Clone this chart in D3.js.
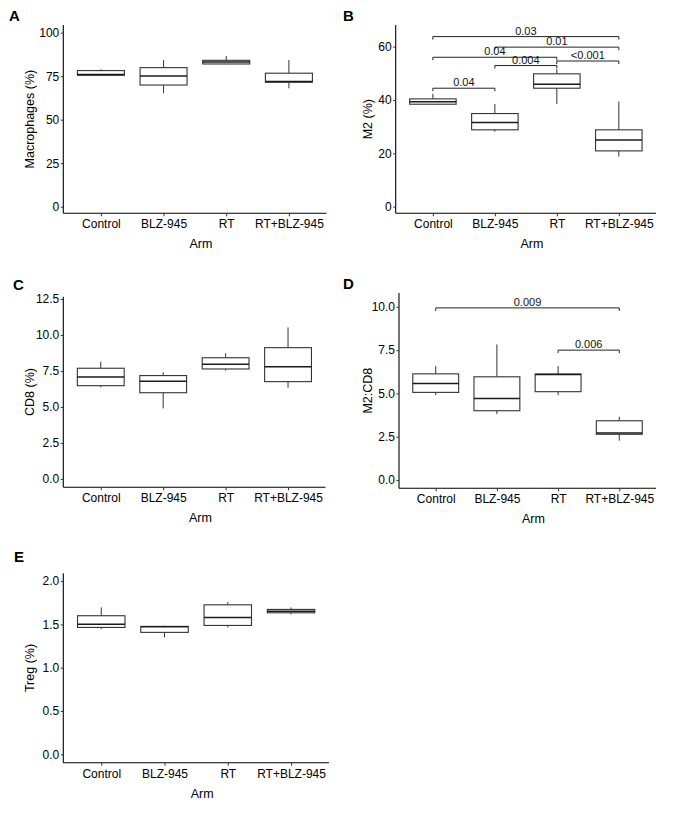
<!DOCTYPE html>
<html>
<head>
<meta charset="utf-8">
<script src="https://cdn.jsdelivr.net/npm/d3@7"></script>
<style>
  html, body { margin: 0; padding: 0; background: #fff; }
  svg { display: block; font-family: "Liberation Sans", Arial, Helvetica, sans-serif; }
</style>
</head>
<body>
<svg id="chart" width="677" height="814"></svg>
<script>
// ---------------- DATA ----------------
const categories = ["Control", "BLZ-945", "RT", "RT+BLZ-945"];

// five-number summaries per arm: [min, q1, median, q3, max]
const macrophagesStats = [
  [75.5, 75.5, 76.0, 78.2, 79.0],
  [65.2, 69.9, 75.1, 79.9, 84.3],
  [81.8, 82.0, 83.2, 84.1, 86.6],
  [68.0, 71.5, 71.9, 76.7, 84.3]
];
const m2Stats = [
  [38.3, 38.4, 39.3, 40.4, 42.3],
  [28.1, 28.8, 31.5, 34.9, 38.5],
  [38.5, 44.4, 45.9, 49.8, 51.5],
  [18.8, 20.9, 25.0, 28.8, 39.4]
];
const cd8Stats = [
  [6.37, 6.48, 7.08, 7.69, 8.15],
  [4.90, 5.99, 6.78, 7.18, 7.41],
  [7.52, 7.64, 7.96, 8.42, 8.73],
  [6.34, 6.76, 7.80, 9.12, 10.53]
];
const m2cd8Stats = [
  [4.90, 5.06, 5.58, 6.13, 6.58],
  [3.81, 4.00, 4.71, 5.96, 7.83],
  [4.90, 5.10, 6.10, 6.12, 6.58],
  [2.27, 2.64, 2.72, 3.42, 3.65]
];
const tregStats = [
  [1.446, 1.465, 1.503, 1.600, 1.696],
  [1.350, 1.408, 1.472, 1.477, 1.484],
  [1.465, 1.488, 1.581, 1.726, 1.757],
  [1.615, 1.634, 1.653, 1.673, 1.696]
];

// significance brackets: [from, to, bracket height (data units), label]
const m2Brackets = [
  ["Control", "RT+BLZ-945", 63.75, "0.03"],
  ["BLZ-945", "RT+BLZ-945", 59.8, "0.01"],
  ["Control", "RT", 56.0, "0.04"],
  ["RT", "RT+BLZ-945", 54.6, "<0.001"],
  ["BLZ-945", "RT", 52.9, "0.004"],
  ["Control", "BLZ-945", 44.4, "0.04"]
];
const m2cd8Brackets = [
  ["Control", "RT+BLZ-945", 9.94, "0.009"],
  ["RT", "RT+BLZ-945", 7.5, "0.006"]
];

// tick values
const macrophagesTicks = [0, 25, 50, 75, 100];
const m2Ticks = [0, 20, 40, 60];
const cd8Ticks = [0, 2.5, 5, 7.5, 10, 12.5];
const m2cd8Ticks = [0, 2.5, 5, 7.5, 10];
const tregTicks = [0, 0.5, 1, 1.5, 2];

// ---------------- LAYOUT ----------------
const panels = [
  { letter: "A", lx: 9, ly: 20.5, left: 63.3, right: 326.5, top: 25, bottom: 213.3,
    domain: [-3.8, 104.4], ticks: macrophagesTicks, fmt: d3.format("d"),
    stats: macrophagesStats, ytitle: "Macrophages (%)", titleX: 30, brackets: [] },
  { letter: "B", lx: 343, ly: 20.5, left: 395.7, right: 656, top: 25, bottom: 213.3,
    domain: [-2.5, 68.1], ticks: m2Ticks, fmt: d3.format("d"),
    stats: m2Stats, ytitle: "M2 (%)", titleX: 368, brackets: m2Brackets },
  { letter: "C", lx: 13, ly: 290, left: 63.3, right: 325.5, top: 296.7, bottom: 487.3,
    domain: [-0.58, 12.66], ticks: cd8Ticks, fmt: d3.format(".1f"),
    stats: cd8Stats, ytitle: "CD8 (%)", titleX: 30, brackets: [] },
  { letter: "D", lx: 343, ly: 288.6, left: 399, right: 656, top: 293, bottom: 488.3,
    domain: [-0.48, 10.8], ticks: m2cd8Ticks, fmt: d3.format(".1f"),
    stats: m2cd8Stats, ytitle: "M2:CD8", titleX: 368, brackets: m2cd8Brackets },
  { letter: "E", lx: 14, ly: 562, left: 63.3, right: 329, top: 573.3, bottom: 762.7,
    domain: [-0.097, 2.09], ticks: tregTicks, fmt: d3.format(".1f"),
    stats: tregStats, ytitle: "Treg (%)", titleX: 30, brackets: [] }
];

const svg = d3.select("#chart");
const boxColor = "#333333";

panels.forEach(p => {
  const g = svg.append("g");
  const x = d3.scalePoint().domain(categories).range([p.left, p.right]).padding(0.6);
  const y = d3.scaleLinear().domain(p.domain).range([p.bottom, p.top]);
  const bw = x.step() * 0.75;

  // panel letter
  g.append("text").attr("x", p.lx).attr("y", p.ly)
    .attr("font-size", 15).attr("font-weight", "bold").attr("fill", "#000")
    .text(p.letter);

  // boxes
  const boxes = g.selectAll("g.box").data(p.stats).join("g").attr("class", "box");
  boxes.append("line")
    .attr("x1", (d, i) => x(categories[i])).attr("x2", (d, i) => x(categories[i]))
    .attr("y1", d => y(d[4])).attr("y2", d => y(d[3]))
    .attr("stroke", boxColor).attr("stroke-width", 1);
  boxes.append("line")
    .attr("x1", (d, i) => x(categories[i])).attr("x2", (d, i) => x(categories[i]))
    .attr("y1", d => y(d[1])).attr("y2", d => y(d[0]))
    .attr("stroke", boxColor).attr("stroke-width", 1);
  boxes.append("rect")
    .attr("x", (d, i) => x(categories[i]) - bw / 2).attr("width", bw)
    .attr("y", d => y(d[3])).attr("height", d => Math.max(0.5, y(d[1]) - y(d[3])))
    .attr("fill", "#fff").attr("stroke", boxColor).attr("stroke-width", 1.1);
  boxes.append("line")
    .attr("x1", (d, i) => x(categories[i]) - bw / 2).attr("x2", (d, i) => x(categories[i]) + bw / 2)
    .attr("y1", d => y(d[2])).attr("y2", d => y(d[2]))
    .attr("stroke", "#1a1a1a").attr("stroke-width", 1.5);

  // brackets
  p.brackets.forEach(b => {
    const x1 = x(b[0]), x2 = x(b[1]), yy = y(b[2]);
    g.append("path")
      .attr("d", `M${x1},${yy + 3}V${yy}H${x2}V${yy + 3}`)
      .attr("fill", "none").attr("stroke", "#222").attr("stroke-width", 1);
    g.append("text").attr("x", (x1 + x2) / 2).attr("y", yy - 2)
      .attr("text-anchor", "middle").attr("font-size", 11).attr("fill", "#111")
      .text(b[3]);
  });

  // axes
  const yAxis = d3.axisLeft(y).tickValues(p.ticks).tickFormat(p.fmt).tickSize(2.5).tickPadding(1.5);
  const ya = g.append("g").attr("transform", `translate(${p.left},0)`).call(yAxis);
  ya.attr("font-family", null);
  ya.select(".domain").attr("d", `M0,${p.top}V${p.bottom}`).attr("stroke", "#000").attr("stroke-width", 1.1);
  ya.selectAll("text").attr("font-size", 12).attr("fill", "#000");
  ya.selectAll(".tick line").attr("stroke", "#333");

  const xAxis = d3.axisBottom(x).tickSize(3).tickPadding(3.5);
  const xa = g.append("g").attr("transform", `translate(0,${p.bottom})`).call(xAxis);
  xa.attr("font-family", null);
  xa.select(".domain").attr("d", `M${p.left},0H${p.right}`).attr("stroke", "#000").attr("stroke-width", 1.1);
  xa.selectAll("text").attr("font-size", 12).attr("fill", "#000");
  xa.selectAll(".tick line").attr("stroke", "#333");

  // axis titles
  g.append("text")
    .attr("x", (p.left + p.right) / 2 + 6).attr("y", p.bottom + 35)
    .attr("text-anchor", "middle").attr("font-size", 12.5).attr("fill", "#000")
    .text("Arm");
  const cy = (p.top + p.bottom) / 2;
  g.append("text")
    .attr("transform", `translate(${p.titleX + 4.4},${cy}) rotate(-90)`)
    .attr("text-anchor", "middle").attr("font-size", 12.5).attr("fill", "#000")
    .text(p.ytitle);
});
</script>
</body>
</html>
